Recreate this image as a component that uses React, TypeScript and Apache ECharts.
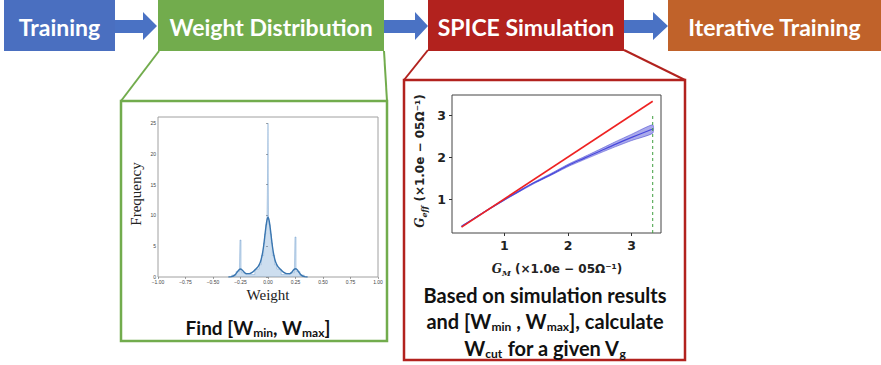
import React, { useEffect, useRef } from "react";
import * as echarts from "echarts";

// ---- Flow stages ----
const stageNames = ["Training", "Weight Distribution", "SPICE Simulation", "Iterative Training"];
const stageColors = ["#4A6FC0", "#72AC4D", "#B2221E", "#C0622A"];

// ---- Weight histogram (bin left edges, heights) ----
const histEdges = [-0.33, -0.29, -0.26, -0.255, -0.245, -0.24, -0.2, -0.12, -0.08, -0.06, -0.04, -0.03, -0.02, -0.01, -0.005, 0, 0.005, 0.01, 0.02, 0.03, 0.04, 0.06, 0.08, 0.12, 0.2, 0.24, 0.245, 0.255, 0.26, 0.29, 0.33];
const histHeights = [0.3, 0.9, 1.2, 6.0, 1.2, 0.7, 0.4, 1.3, 2.0, 3.5, 5.5, 7.0, 8.5, 9.5, 15, 25, 9.5, 8.5, 7.0, 5.5, 3.5, 2.0, 1.3, 0.4, 0.7, 1.2, 6.5, 1.2, 0.9, 0.3];

// ---- KDE curve ----
const kdeX = [-0.36, -0.33, -0.3, -0.28, -0.265, -0.25, -0.235, -0.22, -0.2, -0.17, -0.14, -0.11, -0.09, -0.07, -0.055, -0.04, -0.03, -0.02, -0.01, 0, 0.01, 0.02, 0.03, 0.04, 0.055, 0.07, 0.09, 0.11, 0.14, 0.17, 0.2, 0.22, 0.235, 0.25, 0.265, 0.28, 0.3, 0.33, 0.36];
const kdeY = [0, 0.05, 0.35, 0.8, 1.15, 1.3, 1.15, 0.85, 0.55, 0.55, 0.8, 1.3, 1.7, 2.4, 3.4, 5.0, 6.5, 8.0, 9.2, 9.7, 9.2, 8.0, 6.5, 5.0, 3.4, 2.4, 1.7, 1.3, 0.8, 0.55, 0.55, 0.85, 1.2, 1.35, 1.2, 0.8, 0.35, 0.05, 0];

const weightTicks = [-1, -0.75, -0.5, -0.25, 0, 0.25, 0.5, 0.75, 1];
const freqTicks = [0, 5, 10, 15, 20, 25];

// ---- SPICE simulation ----
const gmX = [0.33, 0.5, 0.75, 1, 1.25, 1.5, 1.75, 2, 2.25, 2.5, 2.75, 3, 3.33];
const gEffMean = [0.35, 0.51, 0.75, 0.98, 1.2, 1.41, 1.6, 1.8, 1.97, 2.14, 2.31, 2.47, 2.67];
const gEffLow = [0.342, 0.502, 0.74, 0.968, 1.185, 1.392, 1.578, 1.772, 1.935, 2.095, 2.25, 2.395, 2.57];
const gEffHigh = [0.358, 0.518, 0.76, 0.992, 1.215, 1.428, 1.622, 1.828, 2.005, 2.185, 2.37, 2.545, 2.77];
const idealX = [0.33, 3.33];
const idealY = [0.33, 3.33];
const gMax = 3.33;
const gTicks = [1, 2, 3];

export default function App() {
  const ref = useRef<HTMLDivElement>(null);
  useEffect(() => {
    document.body.style.margin = "0";
    const chart = echarts.init(ref.current!, null, { renderer: "svg" });

    const histData: number[][] = [[histEdges[0], 0]];
    histEdges.forEach((e, i) => histData.push([e, i < histHeights.length ? histHeights[i] : 0]));
    const kdeData = kdeX.map((x, i) => [x, kdeY[i]]);
    const meanData = gmX.map((x, i) => [x, gEffMean[i]]);
    const idealData = idealX.map((x, i) => [x, idealY[i]]);

    const boxes = [
      { x: 4, w: 111 },
      { x: 158, w: 226 },
      { x: 428, w: 196 },
      { x: 668, w: 213 },
    ];
    const arrows = [
      [115, 143, 157],
      [384, 415, 428],
      [624, 653, 668],
    ];
    const graphic: any[] = [];
    boxes.forEach((b, i) => {
      graphic.push({ type: "rect", shape: { x: b.x, y: 0, width: b.w, height: 51 }, style: { fill: stageColors[i] } });
      graphic.push({
        type: "text", x: b.x + b.w / 2, y: 27,
        style: { text: stageNames[i], fill: "#fff", font: "bold 23px Lato", align: "center", verticalAlign: "middle" },
      });
    });
    arrows.forEach(([a, h, t]) => {
      graphic.push({
        type: "polygon",
        shape: { points: [[a, 20], [h, 20], [h, 12], [t, 26], [h, 40], [h, 33], [a, 33]] },
        style: { fill: "#4A72C4" },
      });
    });
    // green callout
    const green = "#72AC4D";
    graphic.push({ type: "line", shape: { x1: 159, y1: 51, x2: 121, y2: 101 }, style: { stroke: green, lineWidth: 2 } });
    graphic.push({ type: "line", shape: { x1: 384, y1: 51, x2: 387, y2: 101 }, style: { stroke: green, lineWidth: 2 } });
    graphic.push({ type: "rect", shape: { x: 121, y: 101, width: 266, height: 240 }, style: { fill: "none", stroke: green, lineWidth: 2.5 } });
    // red callout
    const red = "#B2221E";
    graphic.push({ type: "line", shape: { x1: 428, y1: 50, x2: 404, y2: 80 }, style: { stroke: red, lineWidth: 2 } });
    graphic.push({ type: "line", shape: { x1: 624, y1: 50, x2: 685, y2: 80 }, style: { stroke: red, lineWidth: 2 } });
    graphic.push({ type: "rect", shape: { x: 404, y: 80, width: 281, height: 280 }, style: { fill: "none", stroke: red, lineWidth: 2.5 } });

    const subStyle = { fontFamily: "Lato", fontWeight: "bold", fontSize: 12, fill: "#111", verticalAlign: "bottom", lineHeight: 9 };
    const mainText = (text: string, x: number, y: number, size: number) => ({
      type: "text", x, y,
      style: {
        text, fill: "#111", fontFamily: "Lato", fontWeight: "bold", fontSize: size, lineHeight: 22,
        align: "center", verticalAlign: "middle", rich: { s: subStyle },
      },
    });
    graphic.push(mainText("Find [W{s|min}, W{s|max}]", 258, 327, 19));
    graphic.push(mainText("Based on simulation results", 545, 295, 20));
    graphic.push(mainText("and [W{s|min} , W{s|max}], calculate", 545, 321, 20));
    graphic.push(mainText("W{s|cut} for a given V{s|g}", 545, 348, 20));

    // histogram axis labels
    graphic.push({ type: "text", x: 136, y: 194, rotation: Math.PI / 2, style: { text: "Frequency", fill: "#222", fontFamily: "Liberation Serif", fontSize: 15, align: "center", verticalAlign: "middle" } });
    graphic.push({ type: "text", x: 268, y: 295, style: { text: "Weight", fill: "#222", fontFamily: "Liberation Serif", fontSize: 15, align: "center", verticalAlign: "middle" } });

    // SPICE axis labels
    const labRich = {
      g: { fontFamily: "DejaVu Serif", fontStyle: "italic", fontWeight: "bold", fontSize: 12, fill: "#222" },
      sub: { fontFamily: "DejaVu Serif", fontStyle: "italic", fontWeight: "bold", fontSize: 8, fill: "#222", verticalAlign: "bottom", lineHeight: 9 },
    };
    graphic.push({ type: "text", x: 557, y: 269, style: { text: "{g|G}{sub|M} (×1.0e − 05Ω⁻¹)", fill: "#222", fontFamily: "DejaVu Sans", fontWeight: "bold", fontSize: 12, lineHeight: 16, align: "center", verticalAlign: "middle", rich: labRich } });
    graphic.push({ type: "text", x: 420, y: 161, rotation: Math.PI / 2, style: { text: "{g|G}{sub|eff} (×1.0e − 05Ω⁻¹)", fill: "#222", fontFamily: "DejaVu Sans", fontWeight: "bold", fontSize: 12, lineHeight: 16, align: "center", verticalAlign: "middle", rich: labRich } });

    const fmtW = (v: number) => (v < 0 ? "−" : "") + Math.abs(v).toFixed(2);

    chart.setOption({
      animation: false,
      grid: [
        { left: 158, top: 117, width: 220, height: 160, show: true, borderColor: "#a0a0a0", borderWidth: 1 },
        { left: 452, top: 95, width: 209, height: 138, show: true, borderColor: "#444", borderWidth: 1 },
      ],
      xAxis: [
        {
          type: "value", gridIndex: 0, min: -1, max: 1,
          axisLine: { show: false }, splitLine: { show: false },
          axisTick: { show: true, length: 2, customValues: weightTicks, lineStyle: { color: "#666", width: 0.6 } },
          axisLabel: { customValues: weightTicks, fontSize: 5, color: "#444", margin: 2, formatter: fmtW },
        },
        {
          type: "value", gridIndex: 1, min: 0.18, max: 3.46,
          axisLine: { show: false }, splitLine: { show: false },
          axisTick: { show: true, length: 3, customValues: gTicks, lineStyle: { color: "#333", width: 1 } },
          axisLabel: { customValues: gTicks, fontSize: 12.5, fontWeight: "bold", fontFamily: "DejaVu Sans", color: "#222", margin: 6 },
        },
      ],
      yAxis: [
        {
          type: "value", gridIndex: 0, min: 0, max: 26,
          axisLine: { show: false }, splitLine: { show: false },
          axisTick: { show: true, length: 2, customValues: freqTicks, lineStyle: { color: "#666", width: 0.6 } },
          axisLabel: { customValues: freqTicks, fontSize: 5, color: "#444", margin: 2 },
        },
        {
          type: "value", gridIndex: 1, min: 0.19, max: 3.48,
          axisLine: { show: false }, splitLine: { show: false },
          axisTick: { show: true, length: 3, customValues: gTicks, lineStyle: { color: "#333", width: 1 } },
          axisLabel: { customValues: gTicks, fontSize: 12.5, fontWeight: "bold", fontFamily: "DejaVu Sans", color: "#222", margin: 6 },
        },
      ],
      series: [
        {
          type: "line", xAxisIndex: 0, yAxisIndex: 0, step: "end", data: histData, showSymbol: false,
          lineStyle: { color: "rgba(70,130,190,0.55)", width: 0.6 }, areaStyle: { color: "rgba(95,150,205,0.45)" },
        },
        {
          type: "line", xAxisIndex: 0, yAxisIndex: 0, smooth: 0.3, data: kdeData, showSymbol: false,
          lineStyle: { color: "#3a76b0", width: 1.4 },
        },
        {
          type: "custom", xAxisIndex: 1, yAxisIndex: 1, data: [[gmX[0], gEffLow[0]]],
          renderItem: (_p: any, api: any) => {
            const upper = gmX.map((x, i) => api.coord([x, gEffHigh[i]]));
            const lower = gmX.map((x, i) => api.coord([x, gEffLow[i]])).reverse();
            return {
              type: "polygon",
              shape: { points: upper.concat(lower), smooth: 0.2 },
              style: { fill: "rgba(85,85,215,0.5)", stroke: "rgba(70,70,210,0.9)", lineWidth: 0.6 },
            };
          },
        },
        {
          type: "line", xAxisIndex: 1, yAxisIndex: 1, data: meanData, showSymbol: false, smooth: 0.3,
          lineStyle: { color: "#4848dc", width: 1.2 },
        },
        {
          type: "line", xAxisIndex: 1, yAxisIndex: 1, data: idealData, showSymbol: false, z: 5,
          lineStyle: { color: "#ee2222", width: 1.6 },
        },
        {
          type: "line", xAxisIndex: 1, yAxisIndex: 1, data: [[gMax, 0.19], [gMax, 3.05]], showSymbol: false,
          lineStyle: { color: "#3f9f3f", width: 1, type: [3, 3] },
        },
      ],
      graphic,
    });
    return () => chart.dispose();
  }, []);
  return <div ref={ref} style={{ width: 881, height: 365 }} />;
}
